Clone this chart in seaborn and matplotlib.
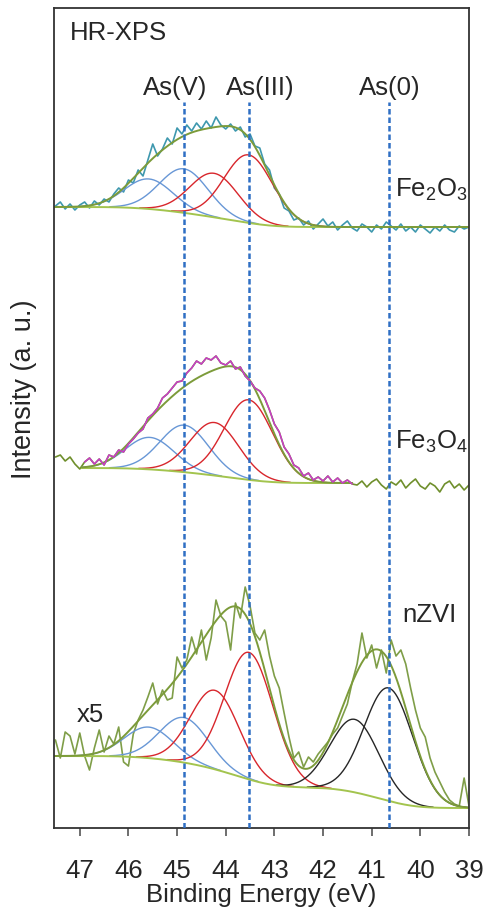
import numpy as np
import matplotlib
matplotlib.use("Agg")
import matplotlib.pyplot as plt
import seaborn as sns

sns.set_style("white")
plt.rcParams["font.family"] = ["Liberation Sans", "DejaVu Sans"]
plt.rcParams["mathtext.fontset"] = "custom"
plt.rcParams["mathtext.rm"] = "Liberation Sans"

# raw spectra, sampled every 0.1 eV from 47.5 down to 39.0 eV (stacked a.u.)
energy = np.round(np.arange(47.5, 38.95, -0.1), 1)

fe2o3_raw = [622, 626, 619, 624, 618, 623, 626, 620, 627, 623,
             629, 626, 634, 640, 636, 648, 645, 658, 652, 668,
             684, 672, 679, 690, 684, 700, 694, 703, 697, 705,
             699, 707, 700, 711, 703, 699, 704, 697, 701, 691,
             694, 682, 680, 664, 658, 640, 634, 620, 617, 608,
             610, 603, 607, 599, 604, 609, 602, 606, 598, 603,
             607, 600, 597, 604, 601, 596, 603, 599, 606, 602,
             598, 604, 597, 601, 596, 603, 599, 595, 601, 597,
             603, 598, 596, 602, 599, 601]

fe3o4_raw = [371, 373, 367, 371, 364, 359, 366, 370, 364, 369,
             363, 373, 371, 378, 376, 384, 389, 395, 399, 410,
             414, 420, 430, 434, 440, 446, 447, 455, 460, 467,
             464, 470, 468, 472, 465, 463, 467, 459, 461, 452,
             447, 440, 437, 430, 418, 404, 396, 381, 374, 363,
             360, 352, 355, 348, 351, 347, 352, 346, 350, 345,
             348, 344, 343, 347, 341, 346, 349, 343, 339, 346,
             343, 348, 340, 345, 349, 342, 339, 345, 342, 336,
             344, 347, 340, 344, 338, 343]

nzvi_raw = [88, 70, 96, 92, 74, 95, 72, 58, 80, 98,
            76, 92, 84, 101, 66, 62, 94, 108, 118, 131,
            145, 124, 138, 128, 130, 171, 160, 168, 191, 174,
            198, 168, 190, 228, 212, 206, 178, 225, 210, 241,
            222, 195, 188, 198, 172, 152, 140, 115, 91, 70,
            76, 61, 71, 66, 74, 80, 86, 94, 100, 112,
            124, 146, 164, 195, 170, 183, 160, 178, 155, 188,
            172, 178, 164, 140, 118, 100, 91, 70, 56, 46,
            36, 28, 24, 22, 50, 22]

# fitted components: centre (eV) and height above background
fe2o3_centre = [45.58, 44.86, 44.24, 43.53]
fe2o3_height = [30, 44, 44, 68]
fe3o4_centre = [45.56, 44.85, 44.23, 43.53]
fe3o4_height = [32, 47, 53, 80]
nzvi_centre = [45.58, 44.86, 44.22, 43.52, 41.35, 40.65]
nzvi_height = [31, 45, 79, 127, 73, 113]
peak_sigma = 0.5

# background level on the high-BE and low-BE side
fe2o3_bg = (621, 601)
fe3o4_bg = (360, 345)
nzvi_bg = (72, 20)

# fitted energy window (high, low)
fe2o3_window = (47.55, 39.0)
fe3o4_window = (46.96, 41.4)
nzvi_window = (47.55, 39.0)

BLUE = "#6897d6"
RED = "#d8262c"
BLACK = "#262626"
ENV = "#7c9b3a"
BGC = "#a3c44e"
comp_colors = [BLUE, BLUE, RED, RED, BLACK, BLACK]

state_pos = [44.86, 43.52, 40.65]
state_lbl = ["As(V)", "As(III)", "As(0)"]
state_lbl_x = [45.05, 43.3, 40.62]

FS = 18.5


def fit_curves(window, centres, heights, bg):
    e = np.linspace(window[0], window[1], 500)
    comps = [h * np.exp(-(e - c) ** 2 / (2 * peak_sigma ** 2))
             for c, h in zip(centres, heights)]
    total = np.sum(comps, axis=0)
    # Shirley-type step: grows with peak area on the low-BE side
    area = np.cumsum(total[::-1])[::-1]
    shirley = bg[1] + (bg[0] - bg[1]) * area / area[0]
    return e, comps, total, shirley


fig = plt.figure(figsize=(4.93, 9.19), dpi=100)
ax = fig.add_axes([0.1095, 0.099, 0.8418, 0.8923])

spectra = [
    (fe2o3_raw, fe2o3_centre, fe2o3_height, fe2o3_bg, fe2o3_window, "#3e98ae"),
    (fe3o4_raw, fe3o4_centre, fe3o4_height, fe3o4_bg, fe3o4_window, "#6f8f2c"),
    (nzvi_raw, nzvi_centre, nzvi_height, nzvi_bg, nzvi_window, "#7f9e48"),
]

for raw, cen, hgt, bg, win, rcol in spectra:
    sns.lineplot(x=energy, y=raw, ax=ax, color=rcol, lw=1.2, sort=False)
    e, comps, total, shirley = fit_curves(win, cen, hgt, bg)
    for comp, col in zip(comps, comp_colors):
        keep = comp > 0.4
        sns.lineplot(x=e[keep], y=(shirley + comp)[keep], ax=ax, color=col,
                     lw=1.0, sort=False)
    sns.lineplot(x=e, y=shirley, ax=ax, color=BGC, lw=1.4, sort=False)
    sns.lineplot(x=e, y=shirley + total, ax=ax, color=ENV, lw=1.4, sort=False)

# Fe3O4 raw data inside the fit window in magenta
raw34 = np.array(fe3o4_raw)
mask = (energy <= fe3o4_window[0]) & (energy >= fe3o4_window[1])
sns.lineplot(x=energy[mask], y=raw34[mask], ax=ax, color="#c93ac9", lw=1.1, sort=False)

for pos, lx, lbl in zip(state_pos, state_lbl_x, state_lbl):
    ax.plot([pos, pos], [0, 726], color="#2f6fc4", lw=1.8,
            linestyle=(0, (2.2, 1.2)), zorder=5)
    ax.text(lx, 740, lbl, ha="center", va="center", fontsize=FS)

ax.text(47.2, 795, "HR-XPS", ha="left", va="center", fontsize=FS)
ax.text(40.52, 638, "Fe$_\\mathregular{2}$O$_\\mathregular{3}$", ha="left", va="center", fontsize=FS)
ax.text(40.52, 386, "Fe$_\\mathregular{3}$O$_\\mathregular{4}$", ha="left", va="center", fontsize=FS)
ax.text(40.37, 213, "nZVI", ha="left", va="center", fontsize=FS)
ax.text(47.06, 113, "x5", ha="left", va="center", fontsize=FS)

ax.set_xlim(47.53, 39.0)
ax.set_ylim(0, 820)
ax.set_xticks(range(47, 38, -1))
ax.set_yticks([])
ax.tick_params(axis="x", direction="out", length=6, width=1.2, color="#555555",
               labelsize=FS, pad=16, bottom=True)
for sp in ax.spines.values():
    sp.set_color("#333333")
    sp.set_linewidth(1.3)
ax.set_xlabel("Binding Energy (eV)", fontsize=FS, labelpad=0)
ax.set_ylabel("Intensity (a. u.)", fontsize=FS + 1)
ax.yaxis.set_label_coords(-0.04, 0.535)

fig.savefig("out.png", dpi=100)
